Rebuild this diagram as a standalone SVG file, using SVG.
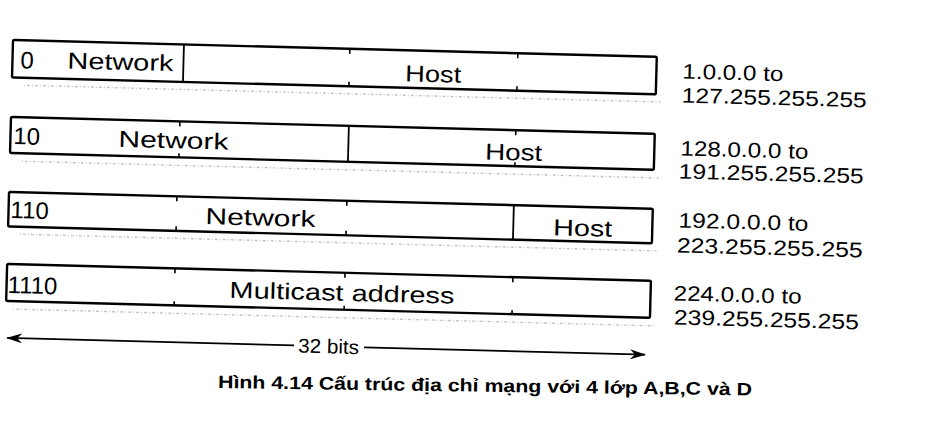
<svg xmlns="http://www.w3.org/2000/svg" width="934" height="432" viewBox="0 0 934 432">
<style>
.box{fill:none;stroke:#000;stroke-width:2.4}
.div{stroke:#000;stroke-width:1.8}
.tick{stroke:#000;stroke-width:1.6}
.shadow{stroke:#c4c4c4;stroke-width:1.4;stroke-dasharray:1 2 3 2}
.f{font-family:"Liberation Sans",Arial,sans-serif;fill:#000}
.t{font-size:23px}
.d{font-size:24px}
.r{font-size:21px}
.cap{font-size:18px;font-weight:bold}
.ar{stroke:#000;stroke-width:1.7;fill:none}
</style>
<defs>
<marker id="ah" viewBox="0 0 16 10" refX="15" refY="5" markerWidth="16" markerHeight="10" orient="auto-start-reverse" markerUnits="userSpaceOnUse">
<path d="M0,0 L16,5 L0,10 L5,5 Z" fill="#000"/>
</marker>
</defs>
<rect width="934" height="432" fill="#fff"/>

<g transform="rotate(1.5 13 40)">
<g id="classA">
<rect class="box" x="13" y="40" width="644" height="37.5" rx="1.5"/>
<line class="div" x1="184" y1="40" x2="184" y2="77.5"/>
<line class="tick" x1="350" y1="40" x2="350" y2="45"/><line class="tick" x1="350" y1="73" x2="350" y2="77.5"/>
<line class="tick" x1="518" y1="40" x2="518" y2="45"/><line class="tick" x1="518" y1="73" x2="518" y2="77.5"/>
<line class="shadow" x1="25" y1="85" x2="662" y2="85"/>
<text class="f d" x="21" y="68">0</text>
<text class="f t" x="68" y="67" textLength="106" lengthAdjust="spacingAndGlyphs">Network</text>
<text class="f t" x="406" y="71" textLength="56" lengthAdjust="spacingAndGlyphs">Host</text>
<text class="f r" x="683" y="61" textLength="101" lengthAdjust="spacingAndGlyphs">1.0.0.0 to</text>
<text class="f r" x="683" y="85" textLength="185" lengthAdjust="spacingAndGlyphs">127.255.255.255</text>
</g>

<g id="classB">
<rect class="box" x="13" y="117" width="644" height="36" rx="1.5"/>
<line class="div" x1="351" y1="117" x2="351" y2="153"/>
<line class="tick" x1="182" y1="117" x2="182" y2="122"/><line class="tick" x1="182" y1="149" x2="182" y2="153"/>
<line class="tick" x1="518" y1="117" x2="518" y2="122"/><line class="tick" x1="518" y1="149" x2="518" y2="153"/>
<line class="shadow" x1="25" y1="161" x2="662" y2="161"/>
<text class="f d" x="16" y="144">10</text>
<text class="f t" x="121" y="144" textLength="110" lengthAdjust="spacingAndGlyphs">Network</text>
<text class="f t" x="488" y="147" textLength="57" lengthAdjust="spacingAndGlyphs">Host</text>
<text class="f r" x="683" y="138" textLength="128" lengthAdjust="spacingAndGlyphs">128.0.0.0 to</text>
<text class="f r" x="682" y="161" textLength="185" lengthAdjust="spacingAndGlyphs">191.255.255.255</text>
</g>

<g id="classC">
<rect class="box" x="13" y="192" width="644" height="34.5" rx="1.5"/>
<line class="div" x1="518" y1="192" x2="518" y2="226.5"/>
<line class="tick" x1="181" y1="192" x2="181" y2="197"/><line class="tick" x1="181" y1="222" x2="181" y2="226.5"/>
<line class="tick" x1="351" y1="192" x2="351" y2="197"/><line class="tick" x1="351" y1="222" x2="351" y2="226.5"/>
<line class="shadow" x1="25" y1="234" x2="662" y2="234"/>
<text class="f d" x="15" y="218">110</text>
<text class="f t" x="210" y="219" textLength="110" lengthAdjust="spacingAndGlyphs">Network</text>
<text class="f t" x="558" y="221" textLength="59" lengthAdjust="spacingAndGlyphs">Host</text>
<text class="f r" x="683" y="210" textLength="130" lengthAdjust="spacingAndGlyphs">192.0.0.0 to</text>
<text class="f r" x="682" y="235" textLength="186" lengthAdjust="spacingAndGlyphs">223.255.255.255</text>
</g>

<g id="classD">
<rect class="box" x="13" y="264" width="644" height="37" rx="1.5"/>
<line class="tick" x1="181" y1="264" x2="181" y2="269"/><line class="tick" x1="181" y1="297" x2="181" y2="301"/>
<line class="tick" x1="351" y1="264" x2="351" y2="269"/><line class="tick" x1="351" y1="297" x2="351" y2="301"/>
<line class="tick" x1="519" y1="264" x2="519" y2="269"/><line class="tick" x1="519" y1="297" x2="519" y2="301"/>
<line class="shadow" x1="20" y1="309" x2="662" y2="309"/>
<text class="f d" x="14" y="293">1110</text>
<text class="f t" x="236" y="292" textLength="225" lengthAdjust="spacingAndGlyphs">Multicast address</text>
<text class="f r" x="680" y="283" textLength="128" lengthAdjust="spacingAndGlyphs">224.0.0.0 to</text>
<text class="f r" x="681" y="307" textLength="185" lengthAdjust="spacingAndGlyphs">239.255.255.255</text>
</g>

<g id="connectors">
<line class="ar" x1="15" y1="338" x2="302" y2="338" marker-start="url(#ah)"/>
<line class="ar" x1="372" y1="338" x2="653" y2="338" marker-end="url(#ah)"/>
</g>
<text class="f" x="306" y="345" font-size="20" textLength="61" lengthAdjust="spacingAndGlyphs">32 bits</text>
</g>

<text class="f cap" x="218" y="388" transform="rotate(0.8 218 388)" textLength="534" lengthAdjust="spacingAndGlyphs">Hình 4.14 Cấu trúc địa chỉ mạng với 4 lớp A,B,C và D</text>
</svg>
